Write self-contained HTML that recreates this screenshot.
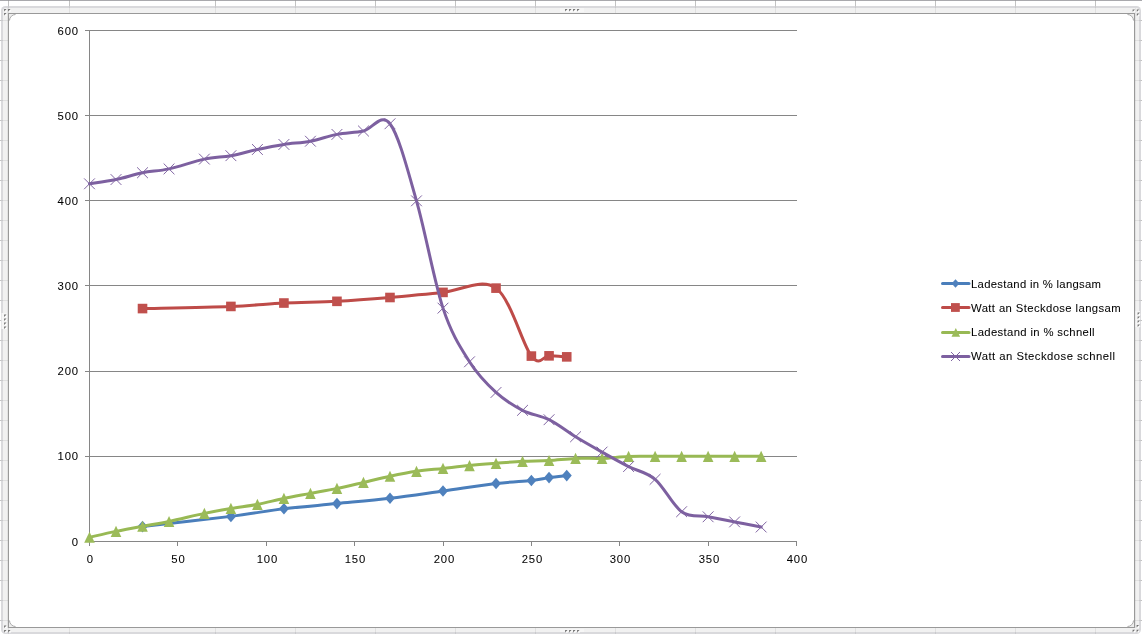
<!DOCTYPE html>
<html><head><meta charset="utf-8"><style>
html,body{margin:0;padding:0;background:#fff;}
body{width:1142px;height:634px;position:relative;overflow:hidden;font-family:"Liberation Sans",sans-serif;color:#000;}
.yl,.xl,.lt{will-change:transform;-webkit-text-stroke:0.05px #000;}
svg{position:absolute;left:0;top:0;}
.yl{position:absolute;left:40px;width:38.8px;text-align:right;font-size:11.3px;line-height:14px;letter-spacing:0.8px;}
.xl{position:absolute;top:552px;width:42.8px;text-align:center;font-size:11.3px;line-height:14px;letter-spacing:0.8px;}
.lt{position:absolute;left:971px;font-size:11.3px;line-height:14px;white-space:nowrap;letter-spacing:0.35px;}
</style></head><body>
<svg width="1142" height="634" viewBox="0 0 1142 634">
<rect x="0" y="0" width="1142" height="634" fill="#fff"/>
<path d="M8.5 0V634M69.5 0V634M215.5 0V634M295.5 0V634M375.5 0V634M455.5 0V634M535.5 0V634M615.5 0V634M695.5 0V634M775.5 0V634M855.5 0V634M935.5 0V634M1015.5 0V634M1095.5 0V634M0 20.5H1142M0 40.5H1142M0 60.5H1142M0 80.5H1142M0 100.5H1142M0 120.5H1142M0 140.5H1142M0 160.5H1142M0 180.5H1142M0 200.5H1142M0 220.5H1142M0 240.5H1142M0 260.5H1142M0 280.5H1142M0 300.5H1142M0 320.5H1142M0 340.5H1142M0 360.5H1142M0 380.5H1142M0 400.5H1142M0 420.5H1142M0 440.5H1142M0 460.5H1142M0 480.5H1142M0 500.5H1142M0 520.5H1142M0 540.5H1142M0 560.5H1142M0 580.5H1142M0 600.5H1142M0 620.5H1142" stroke="#d2d2d2" stroke-width="1" fill="none"/>
<path d="M0 0.5H1142" stroke="#a9a9ad"/>
<rect x="1" y="6" width="1140" height="628" rx="4.5" fill="#d9d9dc"/>
<rect x="3" y="8" width="1136" height="624" rx="2.5" fill="#f1f1f1"/>
<path d="M7.5 8V628M1135.5 8V628" stroke="#e2e2e2" stroke-width="1"/>
<path d="M8.5 0V634M69.5 0V634M215.5 0V634M295.5 0V634M375.5 0V634M455.5 0V634M535.5 0V634M615.5 0V634M695.5 0V634M775.5 0V634M855.5 0V634M935.5 0V634M1015.5 0V634M1095.5 0V634M0 20.5H1142M0 40.5H1142M0 60.5H1142M0 80.5H1142M0 100.5H1142M0 120.5H1142M0 140.5H1142M0 160.5H1142M0 180.5H1142M0 200.5H1142M0 220.5H1142M0 240.5H1142M0 260.5H1142M0 280.5H1142M0 300.5H1142M0 320.5H1142M0 340.5H1142M0 360.5H1142M0 380.5H1142M0 400.5H1142M0 420.5H1142M0 440.5H1142M0 460.5H1142M0 480.5H1142M0 500.5H1142M0 520.5H1142M0 540.5H1142M0 560.5H1142M0 580.5H1142M0 600.5H1142M0 620.5H1142" stroke="#000" stroke-opacity="0.07" stroke-width="1" fill="none"/>
<rect x="8.5" y="13.5" width="1126" height="614" fill="#eeeeee"/>
<rect x="9" y="14" width="1125" height="613" rx="6.5" fill="#fff"/>
<path d="M9.5 20.5A6 6 0 0 1 15.5 14.5M1127.5 14.5A6 6 0 0 1 1133.5 20.5M1133.5 620.5A6 6 0 0 1 1127.5 626.5M15.5 626.5A6 6 0 0 1 9.5 620.5" fill="none" stroke="#a8a8a8" stroke-width="1"/>
<rect x="8.5" y="13.5" width="1126" height="614" fill="none" stroke="#999" stroke-width="1"/>
<path d="M560 8H584V12H560Z M1.5 313H7V329H1.5Z M1135.5 311H1140V327H1135.5Z M560 629H584V632H560Z" fill="#f6f6f6"/>
<g fill="#ffffff"><rect x="566.1" y="10.1" width="1.6" height="1.6"/><rect x="566.1" y="631.1" width="1.6" height="1.6"/><rect x="570.1" y="10.1" width="1.6" height="1.6"/><rect x="570.1" y="631.1" width="1.6" height="1.6"/><rect x="574.1" y="10.1" width="1.6" height="1.6"/><rect x="574.1" y="631.1" width="1.6" height="1.6"/><rect x="578.1" y="10.1" width="1.6" height="1.6"/><rect x="578.1" y="631.1" width="1.6" height="1.6"/><rect x="5.1" y="315.6" width="1.6" height="1.6"/><rect x="5.1" y="319.6" width="1.6" height="1.6"/><rect x="5.1" y="323.6" width="1.6" height="1.6"/><rect x="5.1" y="327.6" width="1.6" height="1.6"/><rect x="1138.6" y="313.6" width="1.6" height="1.6"/><rect x="1138.6" y="317.6" width="1.6" height="1.6"/><rect x="1138.6" y="321.6" width="1.6" height="1.6"/><rect x="1138.6" y="325.6" width="1.6" height="1.6"/><rect x="5.1" y="10.1" width="1.6" height="1.6"/><rect x="9.1" y="10.1" width="1.6" height="1.6"/><rect x="5.1" y="14.1" width="1.6" height="1.6"/><rect x="1133.6" y="10.4" width="1.6" height="1.6"/><rect x="1137.8" y="10.4" width="1.6" height="1.6"/><rect x="1137.8" y="14.6" width="1.6" height="1.6"/><rect x="5.1" y="626.6" width="1.6" height="1.6"/><rect x="5.1" y="631.1" width="1.6" height="1.6"/><rect x="9.1" y="631.1" width="1.6" height="1.6"/><rect x="1137.6" y="626.1" width="1.6" height="1.6"/><rect x="1133.6" y="630.8" width="1.6" height="1.6"/><rect x="1137.6" y="630.8" width="1.6" height="1.6"/></g>
<g fill="#6e6e6e"><path d="M565.1 9.1h2.4l-2.4 2.4z"/><path d="M565.1 630.1h2.4l-2.4 2.4z"/><path d="M569.1 9.1h2.4l-2.4 2.4z"/><path d="M569.1 630.1h2.4l-2.4 2.4z"/><path d="M573.1 9.1h2.4l-2.4 2.4z"/><path d="M573.1 630.1h2.4l-2.4 2.4z"/><path d="M577.1 9.1h2.4l-2.4 2.4z"/><path d="M577.1 630.1h2.4l-2.4 2.4z"/><path d="M4.1 314.6h2.4l-2.4 2.4z"/><path d="M4.1 318.6h2.4l-2.4 2.4z"/><path d="M4.1 322.6h2.4l-2.4 2.4z"/><path d="M4.1 326.6h2.4l-2.4 2.4z"/><path d="M1137.6 312.6h2.4l-2.4 2.4z"/><path d="M1137.6 316.6h2.4l-2.4 2.4z"/><path d="M1137.6 320.6h2.4l-2.4 2.4z"/><path d="M1137.6 324.6h2.4l-2.4 2.4z"/><path d="M4.1 9.1h2.4l-2.4 2.4z"/><path d="M8.1 9.1h2.4l-2.4 2.4z"/><path d="M4.1 13.1h2.4l-2.4 2.4z"/><path d="M1132.6 9.4h2.4l-2.4 2.4z"/><path d="M1136.8 9.4h2.4l-2.4 2.4z"/><path d="M1136.8 13.6h2.4l-2.4 2.4z"/><path d="M4.1 625.6h2.4l-2.4 2.4z"/><path d="M4.1 630.1h2.4l-2.4 2.4z"/><path d="M8.1 630.1h2.4l-2.4 2.4z"/><path d="M1136.6 625.1h2.4l-2.4 2.4z"/><path d="M1132.6 629.8h2.4l-2.4 2.4z"/><path d="M1136.6 629.8h2.4l-2.4 2.4z"/></g>
<path d="M85 30.5H797" stroke="#868686" stroke-width="1"/>
<path d="M85 115.5H797" stroke="#868686" stroke-width="1"/>
<path d="M85 200.5H797" stroke="#868686" stroke-width="1"/>
<path d="M85 285.5H797" stroke="#868686" stroke-width="1"/>
<path d="M85 371.5H797" stroke="#868686" stroke-width="1"/>
<path d="M85 456.5H797" stroke="#868686" stroke-width="1"/>
<path d="M89.5 30V546" stroke="#868686" stroke-width="1"/>
<path d="M85 541.5H797" stroke="#868686" stroke-width="1"/>
<path d="M89.5 541V546" stroke="#868686" stroke-width="1"/>
<path d="M177.5 541V546" stroke="#868686" stroke-width="1"/>
<path d="M266.5 541V546" stroke="#868686" stroke-width="1"/>
<path d="M354.5 541V546" stroke="#868686" stroke-width="1"/>
<path d="M443.5 541V546" stroke="#868686" stroke-width="1"/>
<path d="M531.5 541V546" stroke="#868686" stroke-width="1"/>
<path d="M619.5 541V546" stroke="#868686" stroke-width="1"/>
<path d="M708.5 541V546" stroke="#868686" stroke-width="1"/>
<path d="M796.5 541V546" stroke="#868686" stroke-width="1"/>
<path d="M142.53 526.60 C157.25 524.89 207.33 519.36 230.90 516.38 C254.47 513.39 266.25 510.84 283.93 508.71 C301.60 506.58 319.27 505.35 336.95 503.60 C354.62 501.85 372.30 500.34 389.98 498.24 C407.65 496.13 425.32 493.45 443.00 491.00 C460.68 488.54 481.30 485.25 496.02 483.50 C510.75 481.76 522.54 481.50 531.38 480.52 C540.21 479.54 543.16 478.45 549.05 477.62 C554.94 476.80 563.78 475.92 566.73 475.58" fill="none" stroke="#4A7EBB" stroke-width="3" stroke-linejoin="round" stroke-linecap="round"/>
<g fill="#4F81BD"><path d="M142.53 520.80L147.53 526.60L142.53 532.40L137.53 526.60Z"/><path d="M230.90 510.58L235.90 516.38L230.90 522.18L225.90 516.38Z"/><path d="M283.93 502.91L288.93 508.71L283.93 514.51L278.93 508.71Z"/><path d="M336.95 497.80L341.95 503.60L336.95 509.40L331.95 503.60Z"/><path d="M389.98 492.44L394.98 498.24L389.98 504.04L384.98 498.24Z"/><path d="M443.00 485.20L448.00 491.00L443.00 496.80L438.00 491.00Z"/><path d="M496.02 477.70L501.02 483.50L496.02 489.30L491.02 483.50Z"/><path d="M531.38 474.72L536.38 480.52L531.38 486.32L526.38 480.52Z"/><path d="M549.05 471.82L554.05 477.62L549.05 483.43L544.05 477.62Z"/><path d="M566.73 469.78L571.73 475.58L566.73 481.38L561.73 475.58Z"/></g>
<path d="M142.53 308.57 C157.25 308.21 207.33 307.36 230.90 306.44 C254.47 305.52 266.25 303.89 283.93 303.03 C301.60 302.18 319.27 302.25 336.95 301.33 C354.62 300.41 372.30 298.99 389.98 297.50 C407.65 296.01 425.32 293.95 443.00 292.39 C460.68 290.83 481.30 277.51 496.02 288.13 C510.75 298.75 522.54 344.81 531.38 356.09 C540.21 367.38 543.16 355.71 549.05 355.84 C554.94 355.96 563.78 356.69 566.73 356.86" fill="none" stroke="#BE4B48" stroke-width="3" stroke-linejoin="round" stroke-linecap="round"/>
<g fill="#C0504D"><rect x="137.72" y="303.77" width="9.60" height="9.60"/><rect x="226.10" y="301.64" width="9.60" height="9.60"/><rect x="279.12" y="298.23" width="9.60" height="9.60"/><rect x="332.15" y="296.53" width="9.60" height="9.60"/><rect x="385.18" y="292.70" width="9.60" height="9.60"/><rect x="438.20" y="287.59" width="9.60" height="9.60"/><rect x="491.22" y="283.33" width="9.60" height="9.60"/><rect x="526.58" y="351.29" width="9.60" height="9.60"/><rect x="544.25" y="351.04" width="9.60" height="9.60"/><rect x="561.93" y="352.06" width="9.60" height="9.60"/></g>
<path d="M89.50 537.24 C93.92 536.26 107.17 533.20 116.01 531.37 C124.85 529.53 133.69 527.90 142.53 526.26 C151.36 524.61 158.73 523.63 169.04 521.49 C179.35 519.34 194.08 515.57 204.39 513.39 C214.70 511.22 222.06 509.96 230.90 508.46 C239.74 506.95 248.58 506.04 257.41 504.37 C266.25 502.69 275.09 500.24 283.93 498.41 C292.76 496.57 301.60 495.06 310.44 493.38 C319.27 491.71 328.11 490.19 336.95 488.36 C345.79 486.52 354.62 484.41 363.46 482.39 C372.30 480.38 381.14 478.11 389.98 476.26 C398.81 474.42 407.65 472.63 416.49 471.32 C425.32 470.02 434.16 469.39 443.00 468.43 C451.84 467.46 460.68 466.38 469.51 465.53 C478.35 464.68 487.19 464.01 496.02 463.32 C504.86 462.62 513.70 461.83 522.54 461.36 C531.38 460.89 540.21 461.00 549.05 460.51 C557.89 460.01 566.73 458.73 575.56 458.38 C584.40 458.02 593.24 458.70 602.08 458.38 C610.91 458.05 619.75 456.76 628.59 456.42 C637.42 456.08 646.26 456.35 655.10 456.33 C663.94 456.32 672.77 456.33 681.61 456.33 C690.45 456.33 699.29 456.33 708.12 456.33 C716.96 456.33 725.80 456.33 734.64 456.33 C743.48 456.33 756.73 456.33 761.15 456.33" fill="none" stroke="#98B954" stroke-width="3" stroke-linejoin="round" stroke-linecap="round"/>
<g fill="#9BBB59"><path d="M89.50 531.64L94.80 542.84L84.20 542.84Z"/><path d="M116.01 525.77L121.31 536.97L110.71 536.97Z"/><path d="M142.53 520.66L147.83 531.86L137.22 531.86Z"/><path d="M169.04 515.89L174.34 527.09L163.74 527.09Z"/><path d="M204.39 507.79L209.69 519.00L199.09 519.00Z"/><path d="M230.90 502.86L236.20 514.06L225.60 514.06Z"/><path d="M257.41 498.77L262.71 509.97L252.11 509.97Z"/><path d="M283.93 492.81L289.23 504.01L278.62 504.01Z"/><path d="M310.44 487.78L315.74 498.98L305.14 498.98Z"/><path d="M336.95 482.76L342.25 493.96L331.65 493.96Z"/><path d="M363.46 476.79L368.76 487.99L358.16 487.99Z"/><path d="M389.98 470.66L395.28 481.86L384.68 481.86Z"/><path d="M416.49 465.72L421.79 476.92L411.19 476.92Z"/><path d="M443.00 462.83L448.30 474.03L437.70 474.03Z"/><path d="M469.51 459.93L474.81 471.13L464.21 471.13Z"/><path d="M496.02 457.72L501.32 468.92L490.72 468.92Z"/><path d="M522.54 455.76L527.84 466.96L517.24 466.96Z"/><path d="M549.05 454.91L554.35 466.11L543.75 466.11Z"/><path d="M575.56 452.78L580.86 463.98L570.26 463.98Z"/><path d="M602.08 452.78L607.38 463.98L596.78 463.98Z"/><path d="M628.59 450.82L633.89 462.02L623.29 462.02Z"/><path d="M655.10 450.73L660.40 461.93L649.80 461.93Z"/><path d="M681.61 450.73L686.91 461.93L676.31 461.93Z"/><path d="M708.12 450.73L713.42 461.93L702.83 461.93Z"/><path d="M734.64 450.73L739.94 461.93L729.34 461.93Z"/><path d="M761.15 450.73L766.45 461.93L755.85 461.93Z"/></g>
<path d="M89.50 183.80 C93.92 183.09 107.17 181.39 116.01 179.54 C124.85 177.70 133.69 174.50 142.53 172.73 C151.36 170.95 158.73 171.17 169.04 168.90 C179.35 166.62 194.08 161.30 204.39 159.10 C214.70 156.90 222.06 157.30 230.90 155.69 C239.74 154.09 248.58 151.35 257.41 149.48 C266.25 147.60 275.09 145.83 283.93 144.45 C292.76 143.08 301.60 142.89 310.44 141.22 C319.27 139.54 328.11 136.11 336.95 134.40 C345.79 132.70 354.62 132.77 363.46 131.00 C372.30 129.22 381.14 112.12 389.98 123.76 C398.81 135.40 407.65 170.10 416.49 200.83 C425.32 231.56 434.16 281.32 443.00 308.14 C451.84 334.97 460.68 347.75 469.51 361.80 C478.35 375.85 487.19 384.37 496.02 392.46 C504.86 400.55 513.70 405.80 522.54 410.34 C531.38 414.89 540.21 415.31 549.05 419.71 C557.89 424.11 566.73 431.35 575.56 436.75 C584.40 442.14 593.24 447.11 602.08 452.07 C610.91 457.04 619.75 462.01 628.59 466.55 C637.42 471.10 646.26 471.81 655.10 479.33 C663.94 486.85 672.77 505.45 681.61 511.69 C690.45 517.94 699.29 515.10 708.12 516.80 C716.96 518.51 725.80 520.21 734.64 521.91 C743.48 523.62 756.73 526.17 761.15 527.02" fill="none" stroke="#7D60A0" stroke-width="3" stroke-linejoin="round" stroke-linecap="round"/>
<g stroke="#8064A2" stroke-width="1" fill="none"><path d="M84.10 178.40L94.90 189.20M84.10 189.20L94.90 178.40"/><path d="M110.61 174.14L121.41 184.94M110.61 184.94L121.41 174.14"/><path d="M137.12 167.33L147.93 178.13M137.12 178.13L147.93 167.33"/><path d="M163.64 163.50L174.44 174.30M163.64 174.30L174.44 163.50"/><path d="M198.99 153.70L209.79 164.50M198.99 164.50L209.79 153.70"/><path d="M225.50 150.29L236.30 161.09M225.50 161.09L236.30 150.29"/><path d="M252.01 144.08L262.81 154.88M252.01 154.88L262.81 144.08"/><path d="M278.53 139.05L289.32 149.85M278.53 149.85L289.32 139.05"/><path d="M305.04 135.82L315.84 146.62M305.04 146.62L315.84 135.82"/><path d="M331.55 129.00L342.35 139.80M331.55 139.80L342.35 129.00"/><path d="M358.06 125.60L368.86 136.40M358.06 136.40L368.86 125.60"/><path d="M384.58 118.36L395.38 129.16M384.58 129.16L395.38 118.36"/><path d="M411.09 195.43L421.89 206.23M411.09 206.23L421.89 195.43"/><path d="M437.60 302.74L448.40 313.54M437.60 313.54L448.40 302.74"/><path d="M464.11 356.40L474.91 367.20M464.11 367.20L474.91 356.40"/><path d="M490.62 387.06L501.42 397.86M490.62 397.86L501.42 387.06"/><path d="M517.14 404.94L527.94 415.74M517.14 415.74L527.94 404.94"/><path d="M543.65 414.31L554.45 425.11M543.65 425.11L554.45 414.31"/><path d="M570.16 431.35L580.96 442.14M570.16 442.14L580.96 431.35"/><path d="M596.68 446.68L607.48 457.47M596.68 457.47L607.48 446.68"/><path d="M623.19 461.15L633.99 471.95M623.19 471.95L633.99 461.15"/><path d="M649.70 473.93L660.50 484.73M649.70 484.73L660.50 473.93"/><path d="M676.21 506.29L687.01 517.09M676.21 517.09L687.01 506.29"/><path d="M702.73 511.40L713.52 522.20M702.73 522.20L713.52 511.40"/><path d="M729.24 516.51L740.04 527.31M729.24 527.31L740.04 516.51"/><path d="M755.75 521.62L766.55 532.42M755.75 532.42L766.55 521.62"/></g>
<path d="M942.5 283.5H969" stroke="#4A7EBB" stroke-width="3" stroke-linecap="round"/>
<g fill="#4F81BD"><path d="M955.50 279.20L959.40 283.50L955.50 287.80L951.60 283.50Z"/></g>
<path d="M942.5 307.5H969" stroke="#BE4B48" stroke-width="3" stroke-linecap="round"/>
<g fill="#C0504D"><rect x="951.00" y="303.10" width="8.80" height="8.80"/></g>
<path d="M942.5 332.4H969" stroke="#98B954" stroke-width="3" stroke-linecap="round"/>
<g fill="#9BBB59"><path d="M955.80 328.00L960.10 336.80L951.50 336.80Z"/></g>
<path d="M942.5 356.5H969" stroke="#7D60A0" stroke-width="3" stroke-linecap="round"/>
<g stroke="#8064A2" stroke-width="1" fill="none"><path d="M951.00 352.00L960.00 361.00M951.00 361.00L960.00 352.00"/></g>
</svg>
<div class="yl" style="top:24px">600</div><div class="yl" style="top:109px">500</div><div class="yl" style="top:194px">400</div><div class="yl" style="top:279px">300</div><div class="yl" style="top:364px">200</div><div class="yl" style="top:449px">100</div><div class="yl" style="top:535px">0</div><div class="xl" style="left:69px">0</div><div class="xl" style="left:157px">50</div><div class="xl" style="left:246px">100</div><div class="xl" style="left:334px">150</div><div class="xl" style="left:423px">200</div><div class="xl" style="left:511px">250</div><div class="xl" style="left:599px">300</div><div class="xl" style="left:688px">350</div><div class="xl" style="left:776px">400</div><div class="lt" style="top:277px;letter-spacing:0.30px">Ladestand in % langsam</div><div class="lt" style="top:301px;letter-spacing:0.39px">Watt an Steckdose langsam</div><div class="lt" style="top:325px;letter-spacing:0.35px">Ladestand in % schnell</div><div class="lt" style="top:349px;letter-spacing:0.47px">Watt an Steckdose schnell</div>
</body></html>
